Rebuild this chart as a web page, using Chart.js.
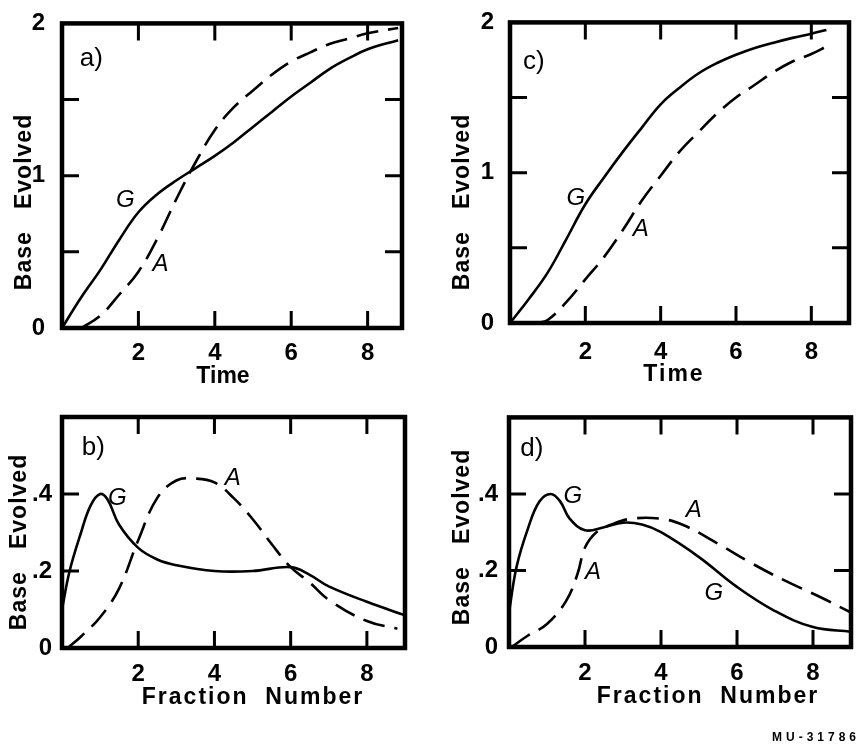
<!DOCTYPE html>
<html>
<head>
    <title>Base Evolved</title>
    <script src="https://cdn.jsdelivr.net/npm/chart.js"></script>
    <style>
        body { margin: 0; background: #fff; }
        canvas { position: absolute; }
        #code { position: absolute; right: 2px; top: 730px; font: bold 12px "Liberation Sans", Arial, sans-serif; letter-spacing: 4px; }
    </style>
</head>
<body>
<canvas id="panelA" width="431" height="400" style="left:0;top:0"></canvas>
<canvas id="panelC" width="431" height="400" style="left:431px;top:0"></canvas>
<canvas id="panelB" width="431" height="349" style="left:0;top:400px"></canvas>
<canvas id="panelD" width="431" height="349" style="left:431px;top:400px"></canvas>
<div id="code">MU-31786</div>
<script>
    // a) base evolved vs time
    const aTimeG = [0, 0.5, 1, 1.5, 2, 2.5, 3, 3.5, 4, 4.5, 5, 5.5, 6, 6.5, 7, 7.5, 8, 8.8];
    const aBaseG = [0, 0.2, 0.38, 0.58, 0.76, 0.88, 0.97, 1.05, 1.13, 1.22, 1.32, 1.42, 1.52, 1.61, 1.70, 1.77, 1.83, 1.89];
    const aTimeA = [0.5, 1, 1.5, 2, 2.5, 3, 3.5, 4, 4.5, 5, 5.5, 6, 6.5, 7, 7.5, 8, 8.8];
    const aBaseA = [0, 0.08, 0.22, 0.37, 0.59, 0.85, 1.09, 1.30, 1.45, 1.56, 1.665, 1.75, 1.81, 1.865, 1.90, 1.935, 1.97];

    // c) base evolved vs time
    const cTimeG = [0, 0.5, 1, 1.5, 2, 2.5, 3, 3.5, 4, 4.5, 5, 5.5, 6, 6.5, 7, 7.5, 8, 8.4];
    const cBaseG = [0, 0.16, 0.335, 0.56, 0.79, 0.97, 1.14, 1.30, 1.455, 1.565, 1.66, 1.73, 1.785, 1.83, 1.865, 1.897, 1.925, 1.95];
    const cTimeA = [0.7, 1, 1.5, 2, 2.5, 3, 3.5, 4, 4.5, 5, 5.5, 6, 6.5, 7, 7.5, 8, 8.4];
    const cBaseA = [0, 0.02, 0.14, 0.29, 0.44, 0.62, 0.815, 0.98, 1.14, 1.27, 1.395, 1.50, 1.585, 1.67, 1.74, 1.79, 1.84];

    // b) base evolved vs fraction number
    const bFracG = [0, 0.2, 0.5, 0.75, 1, 1.2, 1.5, 2, 2.5, 3, 4, 5, 6, 6.5, 7, 8, 9];
    const bBaseG = [0.1, 0.2, 0.3, 0.37, 0.4, 0.385, 0.32, 0.26, 0.23, 0.215, 0.2, 0.2, 0.21, 0.19, 0.16, 0.12, 0.085];
    const bFracA = [0.15, 0.5, 1, 1.5, 2, 2.5, 3, 3.5, 4, 4.5, 5, 5.5, 6, 6.5, 7, 8, 8.8];
    const bBaseA = [0, 0.03, 0.08, 0.155, 0.28, 0.39, 0.435, 0.44, 0.43, 0.39, 0.335, 0.27, 0.21, 0.17, 0.125, 0.07, 0.05];

    // d) base evolved vs fraction number
    const dFracG = [0, 0.2, 0.5, 0.8, 1.1, 1.35, 1.6, 2, 2.5, 3, 3.5, 4, 5, 6, 7, 8, 9];
    const dBaseG = [0.09, 0.21, 0.31, 0.38, 0.4, 0.38, 0.335, 0.305, 0.313, 0.325, 0.32, 0.3, 0.235, 0.157, 0.094, 0.052, 0.04];
    const dFracA = [0.07, 0.5, 1, 1.5, 1.8, 2, 2.3, 2.7, 3.2, 4, 4.6, 5.5, 6.4, 7.25, 8.2, 9];
    const dBaseA = [0, 0.03, 0.06, 0.12, 0.19, 0.26, 0.3, 0.32, 0.335, 0.335, 0.318, 0.27, 0.218, 0.174, 0.13, 0.09];

    // tick labels and inward tick marks
    const xLabels = [2, 4, 6, 8];
    const timeYLabels = [0, 1, 2];
    const timeYMarks = [0.5, 1, 1.5];
    const fracYLabels = [0, 0.2, 0.4];
    const fracYMarks = [0.2, 0.4];

    const FONT = '"Liberation Sans", Arial, sans-serif';

    const panelDecor = {
        id: 'panelDecor',
        afterDraw(chart) {
            const o = chart.options.plugins.panelDecor;
            const ctx = chart.ctx;
            const a = chart.chartArea;
            const xs = chart.scales.x;
            const ys = chart.scales.y;
            const len = 17;
            ctx.save();
            ctx.strokeStyle = '#000';
            ctx.fillStyle = '#000';
            ctx.lineWidth = 3;
            ctx.beginPath();
            xLabels.forEach(v => {
                const px = xs.getPixelForValue(v);
                ctx.moveTo(px, a.bottom); ctx.lineTo(px, a.bottom - len);
                ctx.moveTo(px, a.top); ctx.lineTo(px, a.top + len);
            });
            o.leftMarks.forEach(v => {
                const py = ys.getPixelForValue(v);
                ctx.moveTo(a.left, py); ctx.lineTo(a.left + len, py);
            });
            o.rightMarks.forEach(v => {
                const py = ys.getPixelForValue(v);
                ctx.moveTo(a.right, py); ctx.lineTo(a.right - len, py);
            });
            ctx.stroke();
            ctx.lineWidth = 4.5;
            ctx.strokeRect(a.left, a.top, a.right - a.left, a.bottom - a.top);

            ctx.textAlign = 'center';
            ctx.textBaseline = 'middle';
            // axis titles
            ctx.font = 'bold 23px ' + FONT;
            ctx.letterSpacing = o.xTitle.spacing;
            ctx.fillText(o.xTitle.text, o.xTitle.x, o.xTitle.y);
            ctx.save();
            ctx.translate(o.yTitle.x, o.yTitle.y);
            ctx.rotate(-Math.PI / 2);
            ctx.letterSpacing = '1px';
            ctx.fillText('Base   Evolved', 0, 0);
            ctx.restore();
            ctx.letterSpacing = '0px';
            // panel letter and curve names
            o.notes.forEach(n => {
                ctx.font = (n.italic ? 'italic 24px ' : '26px ') + FONT;
                ctx.fillText(n.text, xs.getPixelForValue(n.x), ys.getPixelForValue(n.y));
            });
            ctx.restore();
        }
    };

    function toPoints(xs, ys) {
        return xs.map((x, i) => ({x: x, y: ys[i]}));
    }

    function buildPanel(id, p) {
        new Chart(document.getElementById(id), {
            type: 'line',
            data: {
                datasets: [
                    {
                        data: toPoints(p.gX, p.gY),
                        borderColor: '#000',
                        borderWidth: 2.6,
                        pointRadius: 0,
                        tension: 0.4
                    },
                    {
                        data: toPoints(p.aX, p.aY),
                        borderColor: '#000',
                        borderWidth: 2.6,
                        borderDash: [22, 10],
                        pointRadius: 0,
                        tension: 0.4
                    }
                ]
            },
            options: {
                responsive: false,
                animation: false,
                events: [],
                layout: { padding: { top: p.area.top, right: p.area.right, left: 0, bottom: 0 } },
                plugins: {
                    legend: { display: false },
                    tooltip: { enabled: false },
                    panelDecor: p.decor
                },
                scales: {
                    x: {
                        type: 'linear',
                        min: 0,
                        max: p.xMax,
                        grid: { display: false },
                        border: { display: false },
                        afterBuildTicks: s => { s.ticks = xLabels.map(v => ({value: v})); },
                        afterFit: s => { s.height = p.area.bottom; },
                        ticks: {
                            autoSkip: false,
                            maxRotation: 0,
                            padding: p.xPad,
                            color: '#000',
                            font: { family: FONT, size: 24, weight: 'bold' }
                        }
                    },
                    y: {
                        type: 'linear',
                        min: 0,
                        max: p.yMax,
                        grid: { display: false },
                        border: { display: false },
                        afterBuildTicks: s => { s.ticks = p.yLabels.map(v => ({value: v})); },
                        afterFit: s => { s.width = p.area.left; },
                        ticks: {
                            padding: p.yPad,
                            color: '#000',
                            font: { family: FONT, size: 24, weight: 'bold' },
                            callback: v => (v === 0 || v >= 1) ? String(v) : '.' + Math.round(v * 10)
                        }
                    }
                }
            },
            plugins: [panelDecor]
        });
    }

    buildPanel('panelA', {
        gX: aTimeG, gY: aBaseG, aX: aTimeA, aY: aBaseA,
        xMax: 8.9, yMax: 2, yLabels: timeYLabels,
        area: { left: 62, top: 17, right: 29, bottom: 72 }, xPad: 3, yPad: 9,
        decor: {
            leftMarks: timeYMarks, rightMarks: timeYMarks,
            xTitle: { text: 'Time', x: 223, y: 377, spacing: '0px' },
            yTitle: { x: 25, y: 202 },
            notes: [
                { text: 'a)', x: 0.77, y: 1.77 },
                { text: 'G', x: 1.66, y: 0.84, italic: true },
                { text: 'A', x: 2.58, y: 0.42, italic: true }
            ]
        }
    });

    buildPanel('panelC', {
        gX: cTimeG, gY: cBaseG, aX: cTimeA, aY: cBaseA,
        xMax: 9, yMax: 2, yLabels: timeYLabels,
        area: { left: 79, top: 15, right: 13, bottom: 77 }, xPad: 7, yPad: 8,
        decor: {
            leftMarks: timeYMarks, rightMarks: timeYMarks,
            xTitle: { text: 'Time', x: 243, y: 375, spacing: '2px' },
            yTitle: { x: 32, y: 202 },
            notes: [
                { text: 'c)', x: 0.63, y: 1.74 },
                { text: 'G', x: 1.75, y: 0.83, italic: true },
                { text: 'A', x: 3.47, y: 0.62, italic: true }
            ]
        }
    });

    buildPanel('panelB', {
        gX: bFracG, gY: bBaseG, aX: bFracA, aY: bBaseA,
        xMax: 9, yMax: 0.6, yLabels: fracYLabels,
        area: { left: 62, top: 17, right: 26, bottom: 101 }, xPad: 4, yPad: 2,
        decor: {
            leftMarks: fracYMarks, rightMarks: [],
            xTitle: { text: 'Fraction  Number', x: 253, y: 298, spacing: '2px' },
            yTitle: { x: 20, y: 142 },
            notes: [
                { text: 'b)', x: 0.82, y: 0.52 },
                { text: 'G', x: 1.45, y: 0.39, italic: true },
                { text: 'A', x: 4.48, y: 0.44, italic: true }
            ]
        }
    });

    buildPanel('panelD', {
        gX: dFracG, gY: dBaseG, aX: dFracA, aY: dBaseA,
        xMax: 9, yMax: 0.6, yLabels: fracYLabels,
        area: { left: 78, top: 15, right: 11, bottom: 102 }, xPad: 4, yPad: 3,
        decor: {
            leftMarks: fracYMarks, rightMarks: fracYMarks,
            xTitle: { text: 'Fraction  Number', x: 277, y: 297, spacing: '2px' },
            yTitle: { x: 32, y: 137 },
            notes: [
                { text: 'd)', x: 0.6, y: 0.517 },
                { text: 'G', x: 1.68, y: 0.395, italic: true },
                { text: 'A', x: 4.86, y: 0.356, italic: true },
                { text: 'A', x: 2.21, y: 0.195, italic: true },
                { text: 'G', x: 5.39, y: 0.14, italic: true }
            ]
        }
    });
</script>
</body>
</html>
